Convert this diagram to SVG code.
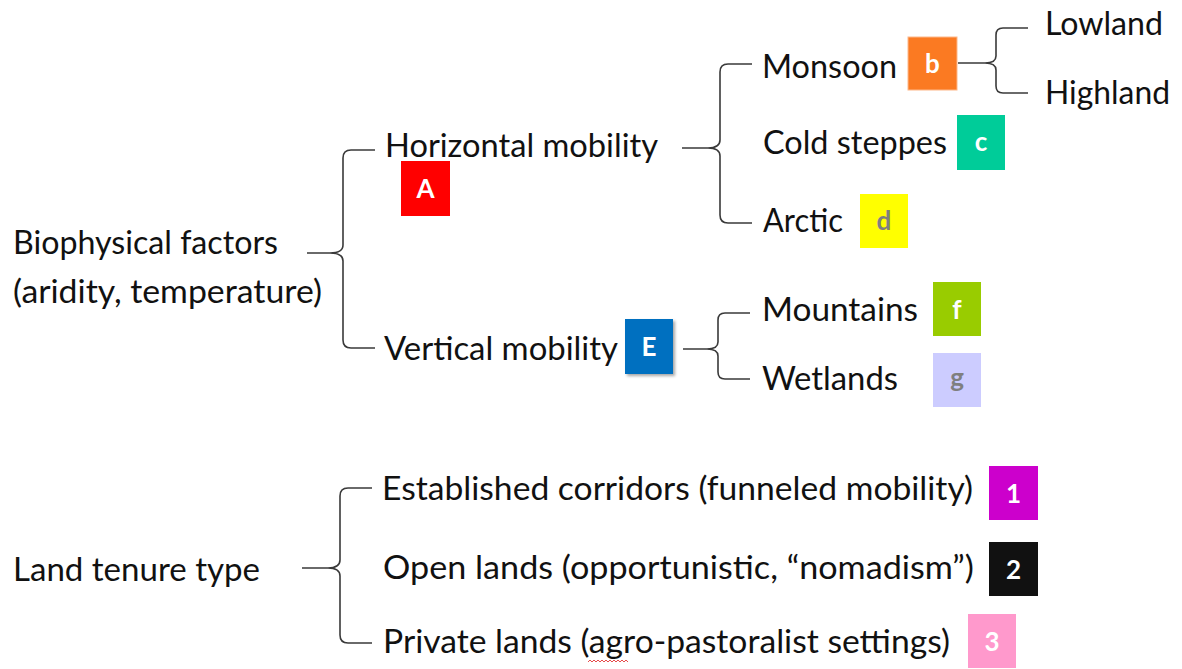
<svg xmlns="http://www.w3.org/2000/svg" width="1182" height="669" viewBox="0 0 1182 669">
<defs>
<style>
.t{font-family:Lato,"Open Sans","Liberation Sans",sans-serif;font-size:32px;fill:#111}
.bl{font-family:Lato,"Open Sans","Liberation Sans",sans-serif;font-size:26px;font-weight:bold;fill:#fff;text-anchor:middle}
.gy{fill:#7f7f7f}
.br{fill:none;stroke:#3a3a3a;stroke-width:1.6;stroke-linejoin:round}
</style>
<filter id="sh" x="-20%" y="-20%" width="150%" height="150%">
<feDropShadow dx="2" dy="2" stdDeviation="1.5" flood-color="#000" flood-opacity="0.35"/>
</filter>
</defs>
<rect width="1182" height="669" fill="#fff"/>

<g id="connectors">
<path class="br" d="M375,150 H351 Q343,150 343,158 V245 Q343,253 330,253 Q343,253 343,261 V340 Q343,348 351,348 H375 M307,253 H330"/>
<path class="br" d="M752,64 H728 Q720,64 720,72 V140 Q720,148 708,148 Q720,148 720,156 V215 Q720,223 728,223 H752 M682,148 H708"/>
<path class="br" d="M1028,28 H1003 Q996,28 996,35 V56 Q996,63 985,63 Q996,63 996,70 V86 Q996,93 1003,93 H1028 M958,63 H985"/>
<path class="br" d="M750,313 H725 Q718,313 718,320 V342 Q718,349 707,349 Q718,349 718,356 V372 Q718,379 725,379 H750 M683,349 H707"/>
<path class="br" d="M372,488 H348 Q340,488 340,496 V560 Q340,568 328,568 Q340,568 340,576 V635 Q340,643 348,643 H372 M302,568 H328"/>
</g>

<g id="biophysical"><text class="t" x="13" y="254" textLength="265" lengthAdjust="spacingAndGlyphs">Biophysical factors</text><text class="t" x="13" y="303" textLength="309" lengthAdjust="spacingAndGlyphs">(aridity, temperature)</text></g>
<g id="horizontal"><text class="t" x="385" y="157" textLength="273" lengthAdjust="spacingAndGlyphs">Horizontal mobility</text></g>
<g id="badgeA"><rect x="401" y="161" width="49" height="55" fill="#ff0000"/><text class="bl" x="425.5" y="198">A</text></g>
<g id="vertical"><text class="t" x="384" y="360" textLength="234" lengthAdjust="spacingAndGlyphs">Vertical mobility</text></g>
<g id="badgeE"><rect x="625" y="319" width="48" height="55" fill="#0070c0" filter="url(#sh)"/><text class="bl" x="649" y="356">E</text></g>

<g id="monsoon"><text class="t" x="762" y="78" textLength="135" lengthAdjust="spacingAndGlyphs">Monsoon</text></g>
<g id="badgeb"><rect x="908" y="37" width="49" height="53" fill="#fb7a22" stroke="#fdb88a" stroke-width="1"/><text class="bl" x="932.5" y="73">b</text></g>
<g id="lowland"><text class="t" x="1045" y="35" textLength="118" lengthAdjust="spacingAndGlyphs">Lowland</text></g>
<g id="highland"><text class="t" x="1045" y="104" textLength="125" lengthAdjust="spacingAndGlyphs">Highland</text></g>
<g id="coldsteppes"><text class="t" x="763" y="154" textLength="184" lengthAdjust="spacingAndGlyphs">Cold steppes</text></g>
<g id="badgec"><rect x="957" y="115" width="48" height="55" fill="#00cc99"/><text class="bl" x="981" y="151">c</text></g>
<g id="arctic"><text class="t" x="763" y="232" textLength="80" lengthAdjust="spacingAndGlyphs">Arctic</text></g>
<g id="badged"><rect x="860" y="194" width="48" height="54" fill="#ffff00"/><text class="bl gy" x="884" y="230">d</text></g>
<g id="mountains"><text class="t" x="762" y="321" textLength="156" lengthAdjust="spacingAndGlyphs">Mountains</text></g>
<g id="badgef"><rect x="933" y="282" width="48" height="54" fill="#99cc00"/><text class="bl" x="957" y="319">f</text></g>
<g id="wetlands"><text class="t" x="762" y="390" textLength="136" lengthAdjust="spacingAndGlyphs">Wetlands</text></g>
<g id="badgeg"><rect x="933" y="353" width="48" height="54" fill="#ccccff"/><text class="bl gy" x="957" y="387">g</text></g>

<g id="landtenure"><text class="t" x="13" y="581" textLength="247" lengthAdjust="spacingAndGlyphs">Land tenure type</text></g>
<g id="corridors"><text class="t" x="382" y="500" textLength="591" lengthAdjust="spacingAndGlyphs">Established corridors (funneled mobility)</text></g>
<g id="badge1"><rect x="989" y="466" width="49" height="54" fill="#cc00cc"/><text class="bl" x="1013.5" y="503">1</text></g>
<g id="openlands"><text class="t" x="383" y="579" textLength="591" lengthAdjust="spacingAndGlyphs">Open lands (opportunistic, “nomadism”)</text></g>
<g id="badge2"><rect x="989" y="542" width="49" height="54" fill="#111111"/><text class="bl" x="1013.5" y="579">2</text></g>
<g id="privatelands"><text class="t" x="383" y="653" textLength="567" lengthAdjust="spacingAndGlyphs">Private lands (agro-pastoralist settings)</text><path d="M588,662 l2,-2 l2,2 l2,-2 l2,2 l2,-2 l2,2 l2,-2 l2,2 l2,-2 l2,2 l2,-2 l2,2 l2,-2 l2,2 l2,-2 l2,2 l2,-2 l2,2 l2,-2 l2,2" fill="none" stroke="#e02020" stroke-width="0.8"/></g>
<g id="badge3"><rect x="968" y="614" width="48" height="54" fill="#ff99cc"/><text class="bl" x="992" y="651">3</text></g>
</svg>
